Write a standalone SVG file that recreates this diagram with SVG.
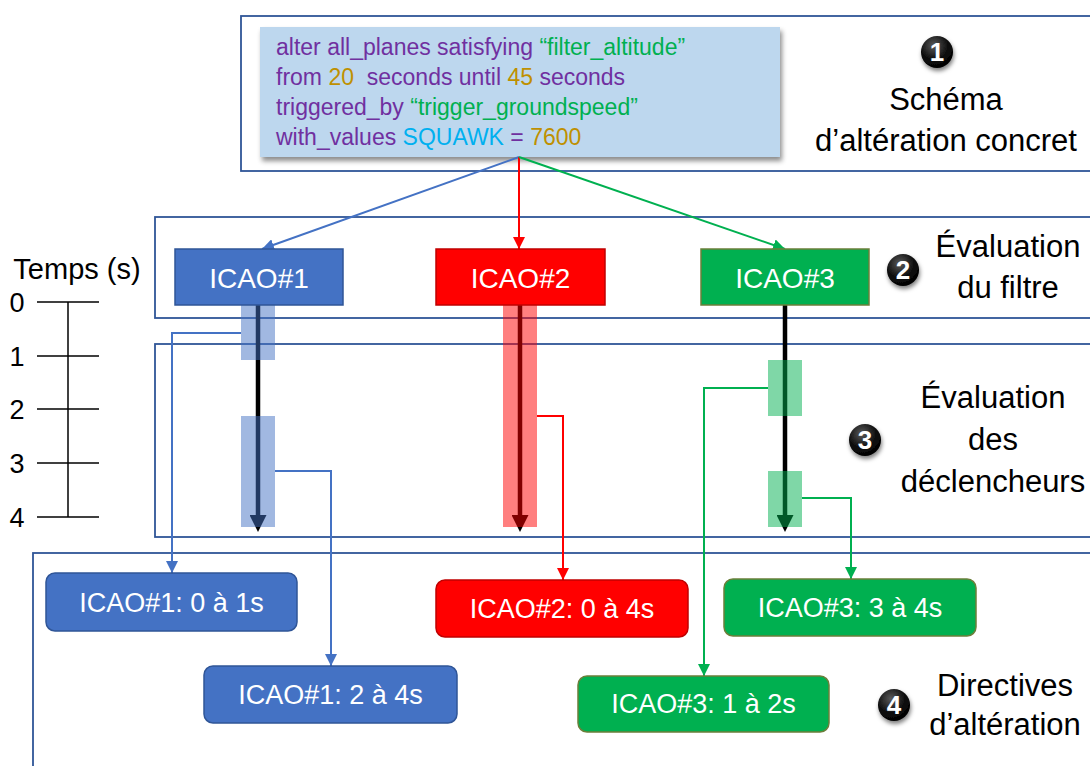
<svg xmlns="http://www.w3.org/2000/svg" width="1090" height="766" viewBox="0 0 1090 766">
<style>
.sec{fill:none;stroke:#2F5597;stroke-width:1.8}
.lbl{font-family:"Liberation Sans",Arial,sans-serif;font-size:31px;fill:#000;text-anchor:middle}
.code{font-family:"Liberation Sans",Arial,sans-serif;font-size:23px;fill:#7030A0}
.g{fill:#00B050}.y{fill:#BF9000}.c{fill:#00B0F0}
.nt{font-family:"Liberation Sans",Arial,sans-serif;font-size:28px;fill:#fff;text-anchor:middle}
.rt{font-family:"Liberation Sans",Arial,sans-serif;font-size:27px;fill:#fff;text-anchor:middle}
.num{font-family:"Liberation Sans",Arial,sans-serif;font-size:26px;fill:#fff;text-anchor:middle;font-weight:bold}
.tl{font-family:"Liberation Sans",Arial,sans-serif;font-size:27px;fill:#000;text-anchor:middle}
.blue{fill:#4472C4;stroke:#2F5597;stroke-width:1.5}
.red{fill:#FF0000;stroke:#C00000;stroke-width:1.5}
.green{fill:#00B050;stroke:#6B7F3A;stroke-width:1.5}
.cb{fill:none;stroke:#4472C4;stroke-width:2}
.cr{fill:none;stroke:#FF0000;stroke-width:2}
.cg{fill:none;stroke:#00B050;stroke-width:2}
.bk{stroke:#000;stroke-width:4.5;fill:none}
.tick{stroke:#000;stroke-width:1.5;fill:none}
</style>
<defs>
<filter id="sh" x="-10%" y="-10%" width="130%" height="140%"><feDropShadow dx="2" dy="4" stdDeviation="2.5" flood-color="#000" flood-opacity="0.45"/></filter>
<filter id="csh" x="-40%" y="-40%" width="190%" height="190%"><feDropShadow dx="1" dy="3" stdDeviation="2" flood-color="#000" flood-opacity="0.5"/></filter>
<radialGradient id="cg" cx="40%" cy="30%" r="70%"><stop offset="0" stop-color="#5a5a5a"/><stop offset="0.6" stop-color="#111"/><stop offset="1" stop-color="#000"/></radialGradient>
<marker id="ab" markerUnits="userSpaceOnUse" markerWidth="12" markerHeight="12" refX="10" refY="5" orient="auto" viewBox="0 0 10 10"><path d="M0,0 L10,5 L0,10 z" fill="#4472C4"/></marker>
<marker id="ar" markerUnits="userSpaceOnUse" markerWidth="12" markerHeight="12" refX="10" refY="5" orient="auto" viewBox="0 0 10 10"><path d="M0,0 L10,5 L0,10 z" fill="#FF0000"/></marker>
<marker id="ag" markerUnits="userSpaceOnUse" markerWidth="12" markerHeight="12" refX="10" refY="5" orient="auto" viewBox="0 0 10 10"><path d="M0,0 L10,5 L0,10 z" fill="#00B050"/></marker>
<marker id="ak" markerUnits="userSpaceOnUse" markerWidth="17" markerHeight="17" refX="2" refY="8.5" orient="auto" viewBox="0 0 17 17"><path d="M0,0 L17,8.5 L0,17 z" fill="#000"/></marker>
</defs>
<rect width="1090" height="766" fill="#fff"/>

<g id="sections">
<rect class="sec" x="241" y="16" width="870" height="155"/>
<rect class="sec" x="155" y="217" width="956" height="101"/>
<rect class="sec" x="155" y="344" width="956" height="193"/>
<rect class="sec" x="33" y="553" width="1078" height="240"/>
</g>

<g id="timeline">
<text class="tl" x="77" y="279" style="font-size:29px">Temps (s)</text>
<line class="tick" x1="68" y1="302" x2="68" y2="517"/>
<line class="tick" x1="37" y1="302" x2="99" y2="302"/>
<line class="tick" x1="37" y1="356" x2="99" y2="356"/>
<line class="tick" x1="37" y1="409" x2="99" y2="409"/>
<line class="tick" x1="37" y1="463" x2="99" y2="463"/>
<line class="tick" x1="37" y1="517" x2="99" y2="517"/>
<text class="tl" x="17" y="312">0</text>
<text class="tl" x="17" y="366">1</text>
<text class="tl" x="17" y="419">2</text>
<text class="tl" x="17" y="473">3</text>
<text class="tl" x="17" y="527">4</text>
</g>

<g id="schema">
<rect x="260" y="27" width="520" height="130" fill="#BDD7EE" filter="url(#sh)"/>
<text class="code" x="276" y="55">alter all_planes satisfying <tspan class="g">“filter_altitude”</tspan></text>
<text class="code" x="276" y="85" xml:space="preserve">from <tspan class="y">20</tspan>  seconds until <tspan class="y">45</tspan> seconds</text>
<text class="code" x="276" y="115">triggered_by <tspan class="g">“trigger_groundspeed”</tspan></text>
<text class="code" x="276" y="145">with_values <tspan class="c">SQUAWK</tspan> = <tspan class="y">7600</tspan></text>
</g>

<g id="timelines">
<line class="bk" x1="258" y1="305" x2="258" y2="517" marker-end="url(#ak)"/>
<line class="bk" x1="520" y1="305" x2="520" y2="517" marker-end="url(#ak)"/>
<line class="bk" x1="785" y1="305" x2="785" y2="517" marker-end="url(#ak)"/>
<rect x="241" y="305" width="34" height="55" fill="#4472C4" fill-opacity="0.5"/>
<rect x="241" y="416" width="34" height="111" fill="#4472C4" fill-opacity="0.5"/>
<rect x="503" y="305" width="34" height="222" fill="#FF0000" fill-opacity="0.5"/>
<rect x="768" y="360" width="34" height="56" fill="#00B050" fill-opacity="0.5"/>
<rect x="768" y="471" width="34" height="56" fill="#00B050" fill-opacity="0.5"/>
</g>

<g id="connectors">
<line class="cb" x1="519" y1="157" x2="262" y2="249" marker-end="url(#ab)"/>
<line class="cr" x1="519" y1="157" x2="519" y2="249" marker-end="url(#ar)"/>
<line class="cg" x1="519" y1="157" x2="785" y2="249" marker-end="url(#ag)"/>
<polyline class="cb" points="241,333 172,333 172,573" marker-end="url(#ab)"/>
<polyline class="cb" points="275,471 331,471 331,666" marker-end="url(#ab)"/>
<polyline class="cr" points="537,416 563,416 563,580" marker-end="url(#ar)"/>
<polyline class="cg" points="768,388 704,388 704,676" marker-end="url(#ag)"/>
<polyline class="cg" points="802,498 851,498 851,579" marker-end="url(#ag)"/>
</g>

<g id="icao1"><rect class="blue" x="175" y="249" width="168" height="56"/><text class="nt" x="259" y="288">ICAO#1</text></g>
<g id="icao2"><rect class="red" x="436" y="249" width="169" height="56"/><text class="nt" x="520.5" y="288">ICAO#2</text></g>
<g id="icao3"><rect class="green" x="701" y="249" width="168" height="56"/><text class="nt" x="785" y="288">ICAO#3</text></g>

<g id="d1"><rect class="blue" x="46" y="573" width="251" height="58" rx="9"/><text class="rt" x="171.5" y="612">ICAO#1: 0 à 1s</text></g>
<g id="d2"><rect class="blue" x="204" y="666" width="253" height="57" rx="9"/><text class="rt" x="330.5" y="704">ICAO#1: 2 à 4s</text></g>
<g id="d3"><rect class="red" x="436" y="580" width="252" height="57" rx="9"/><text class="rt" x="562" y="618">ICAO#2: 0 à 4s</text></g>
<g id="d4"><rect class="green" x="724" y="579" width="252" height="57" rx="9"/><text class="rt" x="850" y="617">ICAO#3: 3 à 4s</text></g>
<g id="d5"><rect class="green" x="578" y="676" width="251" height="56" rx="9"/><text class="rt" x="703.5" y="713">ICAO#3: 1 à 2s</text></g>

<g id="step1">
<circle cx="937" cy="52" r="16" fill="url(#cg)" filter="url(#csh)"/><text class="num" x="937" y="61">1</text>
<text class="lbl" x="946" y="110">Schéma</text>
<text class="lbl" x="946" y="151">d’altération concret</text>
</g>
<g id="step2">
<circle cx="903" cy="270" r="16" fill="url(#cg)" filter="url(#csh)"/><text class="num" x="903" y="279">2</text>
<text class="lbl" x="1008" y="257">Évaluation</text>
<text class="lbl" x="1008" y="298">du filtre</text>
</g>
<g id="step3">
<circle cx="865" cy="440" r="16" fill="url(#cg)" filter="url(#csh)"/><text class="num" x="865" y="449">3</text>
<text class="lbl" x="993" y="408">Évaluation</text>
<text class="lbl" x="993" y="450">des</text>
<text class="lbl" x="993" y="492">déclencheurs</text>
</g>
<g id="step4">
<circle cx="894" cy="705" r="16" fill="url(#cg)" filter="url(#csh)"/><text class="num" x="894" y="714">4</text>
<text class="lbl" x="1005" y="696">Directives</text>
<text class="lbl" x="1005" y="735">d’altération</text>
</g>
</svg>
